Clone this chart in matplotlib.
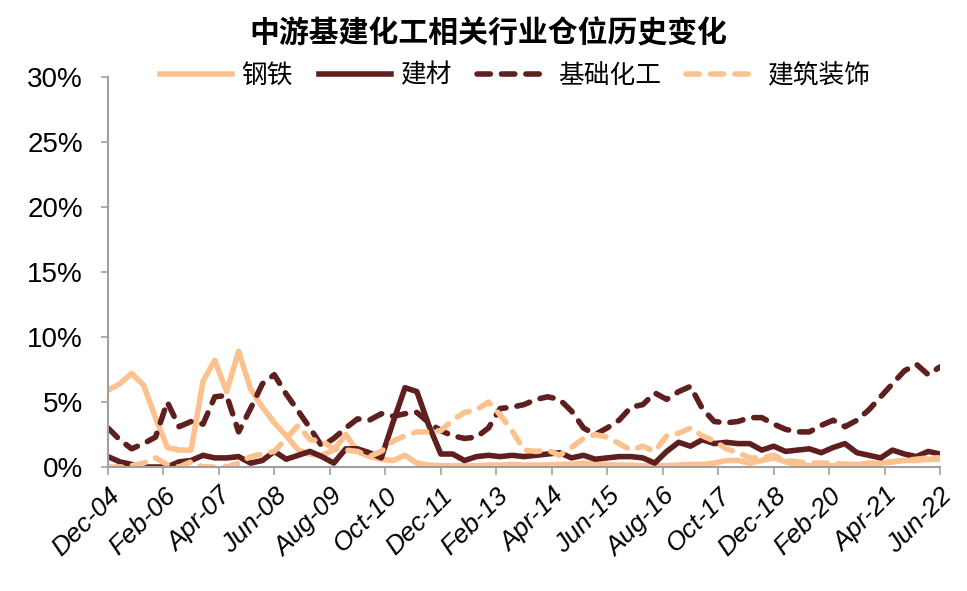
import pandas as pd
import matplotlib
matplotlib.use('Agg')
import matplotlib.pyplot as plt
from matplotlib.ticker import PercentFormatter

plt.rcParams['font.family'] = ['Liberation Sans', 'Noto Sans CJK SC']

# 季度数据（%），2004年12月 - 2022年6月
dates = pd.date_range('2004-12-31', '2022-06-30', freq='QE')

steel = [5.9, 6.4, 7.2, 6.3, 3.8, 1.5, 1.3, 1.3, 6.6, 8.2,
         5.8, 8.9, 6.0, 4.6, 3.4, 2.4, 1.3, 1.0, 0.9, 1.3,
         2.5, 1.2, 0.8, 0.6, 0.5, 0.9, 0.3, 0.15, 0.1, 0.1,
         0.1, 0.1, 0.15, 0.15, 0.2, 0.15, 0.15, 0.15, 0.2, 0.2,
         0.3, 0.2, 0.2, 0.15, 0.15, 0.1, 0.1, 0.1, 0.15, 0.2,
         0.2, 0.3, 0.5, 0.5, 0.3, 0.5, 0.7, 0.4, 0.2, 0.1,
         0.1, 0.1, 0.2, 0.2, 0.2, 0.3, 0.4, 0.5, 0.5, 0.6,
         0.6]

building_mat = [0.8, 0.4, 0.2, 0.0, 0.0, 0.0, 0.4, 0.5, 0.9, 0.7,
                0.7, 0.8, 0.3, 0.5, 1.2, 0.6, 0.9, 1.2, 0.8, 0.3,
                1.4, 1.4, 1.1, 0.7, 3.5, 6.1, 5.8, 3.2, 1.0, 1.0,
                0.5, 0.8, 0.9, 0.8, 0.9, 0.8, 0.9, 1.0, 1.1, 0.7,
                0.9, 0.6, 0.7, 0.8, 0.8, 0.7, 0.3, 1.2, 1.9, 1.6,
                2.1, 1.8, 1.9, 1.8, 1.8, 1.3, 1.6, 1.2, 1.3, 1.4,
                1.1, 1.5, 1.8, 1.1, 0.9, 0.7, 1.3, 1.0, 0.8, 1.2,
                1.0]

chemicals = [3.0, 2.1, 1.4, 1.8, 2.3, 5.0, 3.1, 3.5, 3.3, 5.4,
             5.5, 2.7, 4.5, 6.4, 7.1, 5.6, 4.3, 3.0, 1.6, 2.2,
             3.0, 3.7, 3.6, 4.1, 3.9, 4.1, 4.2, 3.4, 2.8, 2.4,
             2.2, 2.3, 3.0, 4.5, 4.6, 4.8, 5.2, 5.4, 5.2, 4.3,
             3.0, 2.5, 3.0, 3.6, 4.6, 4.8, 5.7, 5.2, 5.8, 6.2,
             4.5, 3.5, 3.4, 3.5, 3.8, 3.8, 3.3, 2.9, 2.7, 2.7,
             3.2, 3.6, 3.1, 3.6, 4.4, 5.4, 6.4, 7.4, 7.9, 7.1,
             7.7]

decoration = [0.0, 0.0, 0.1, 0.3, 0.7, 0.2, 0.0, 0.4, 0.0, 0.0,
              0.0, 0.3, 0.8, 1.0, 1.2, 2.2, 3.2, 2.1, 2.0, 1.4,
              1.3, 1.2, 0.8, 1.2, 2.0, 2.4, 2.7, 2.7, 2.8, 3.6,
              4.2, 4.4, 5.0, 4.0, 2.8, 1.3, 1.2, 1.3, 0.9, 1.5,
              2.2, 2.5, 2.3, 1.8, 1.3, 1.6, 1.2, 2.4, 2.6, 3.0,
              2.4, 2.0, 1.4, 1.1, 0.7, 0.7, 0.9, 0.5, 0.4, 0.3,
              0.3, 0.3, 0.2, 0.2, 0.3, 0.3, 0.4, 0.5, 0.6, 0.7,
              0.7]

tick_labels = ['Dec-04', 'Feb-06', 'Apr-07', 'Jun-08', 'Aug-09', 'Oct-10',
               'Dec-11', 'Feb-13', 'Apr-14', 'Jun-15', 'Aug-16', 'Oct-17',
               'Dec-18', 'Feb-20', 'Apr-21', 'Jun-22']

light = '#FBC290'
dark = '#5E1F1E'
grey = '#A0A0A0'

fig = plt.figure(figsize=(9.67, 5.91), dpi=100)
ax = fig.add_axes([0.1117, 0.2098, 0.8604, 0.66])

lw = 4.0
dash = (0, (2.4, 2.0))
ax.plot(dates, steel, color=light, lw=lw, label='钢铁')
ax.plot(dates, building_mat, color=dark, lw=lw, label='建材')
ax.plot(dates, chemicals, color=dark, lw=lw, ls=dash,
        dash_capstyle='round', label='基础化工')
ax.plot(dates, decoration, color=light, lw=lw, ls=dash,
        dash_capstyle='round', label='建筑装饰')

ax.set_ylim(0, 30)
ax.set_yticks(range(0, 31, 5))
ax.yaxis.set_major_formatter(PercentFormatter(decimals=0))

tick_dates = [pd.to_datetime(t, format='%b-%y') + pd.offsets.MonthEnd(0)
              for t in tick_labels]
ax.set_xlim(tick_dates[0], tick_dates[-1])
ax.set_xticks(tick_dates)
ax.set_xticklabels(tick_labels, rotation=45, ha='right', rotation_mode='anchor',
                   fontstyle='italic', fontsize=19)

for side in ['top', 'right']:
    ax.spines[side].set_visible(False)
for side in ['left', 'bottom']:
    ax.spines[side].set_color(grey)
    ax.spines[side].set_linewidth(1.5)
ax.tick_params(axis='y', length=5, width=1.2, color=grey, labelsize=20, pad=13)
ax.tick_params(axis='x', length=6, width=1.2, color=grey, pad=6)

fig.text(0.505, 0.943, '中游基建化工相关行业仓位历史变化', ha='center', va='center',
         fontsize=21.5, fontweight='bold', family=['Noto Sans CJK SC'])

fig.legend(loc='center', bbox_to_anchor=(0.533, 0.872), ncol=4, frameon=False,
           handlelength=2.8, handletextpad=0.35, columnspacing=1.0,
           prop={'family': ['Noto Sans CJK SC'], 'size': 18.5})

fig.savefig('out.png', dpi=100)
